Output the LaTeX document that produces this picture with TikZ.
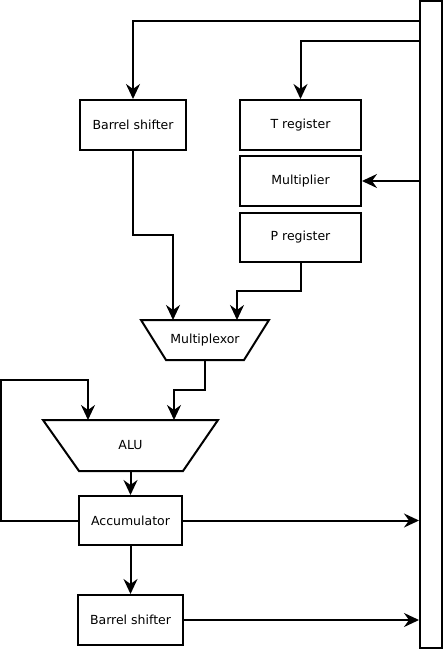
\documentclass[tikz,border=0pt]{standalone}
\usepackage{fontspec}
\setmainfont{DejaVu Sans}
\usetikzlibrary{arrows.meta,shapes.geometric}
\begin{document}
\begin{tikzpicture}[x=1pt,y=-1pt,
  every node/.style={font=\fontsize{12.5}{14}\selectfont},
  box/.style={draw,line width=2pt,inner sep=0pt},
  wire/.style={line width=2pt},
  arr/.style={wire,-{Stealth[length=15pt,width=14pt,inset=5pt]}}]
\useasboundingbox (0,0) rectangle (444,651);
% bus
\node[box,minimum width=22pt,minimum height=647pt] (bus) at (431,324.5) {};
% boxes
\node[box,minimum width=106pt,minimum height=50pt] (bs1) at (133,125) {Barrel shifter};
\node[box,minimum width=121pt,minimum height=50pt] (treg) at (300.5,125) {T register};
\node[box,minimum width=121pt,minimum height=50pt] (mult) at (300.5,181) {Multiplier};
\node[box,minimum width=121pt,minimum height=49pt] (preg) at (300.5,237.5) {P register};
\node[box,minimum width=103pt,minimum height=49pt] (acc) at (130.5,520.5) {Accumulator};
\node[box,minimum width=105pt,minimum height=50pt] (bs2) at (130.5,620) {Barrel shifter};
% trapezoids
\draw[wire,line join=miter] (141,320) -- (269,320) -- (244,360) -- (166,360) -- cycle;
\node (mux) at (205,340) {Multiplexor};
\draw[wire,line join=miter] (43,420) -- (218,420) -- (183,471) -- (79,471) -- cycle;
\node (alu) at (130.5,445) {ALU};
\coordinate (muxbot) at (205,360);
\coordinate (alubot) at (130.5,471);
% connectors
\draw[arr] (bus.west |- 0,21) -| (bs1.north);
\draw[arr] (bus.west |- 0,41) -| (treg.north);
\draw[arr] (bus.west |- mult.east) -- (mult.east);
\draw[arr] (bs1.south) -- (133,235) -| (173,320);
\draw[arr] (preg.south) -- (300.5,291) -| (237,320);
\draw[arr] (muxbot) -- (205,390) -| (174,420);
\draw[arr] (acc.west) -- (1,520.5) |- (88,380) -- (88,420);
\draw[arr] (alubot) -- (acc.north);
\draw[arr] (acc.east) -- (acc.east -| bus.west);
\draw[arr] (acc.south) -- (bs2.north);
\draw[arr] (bs2.east) -- (bs2.east -| bus.west);
\end{tikzpicture}
\end{document}
